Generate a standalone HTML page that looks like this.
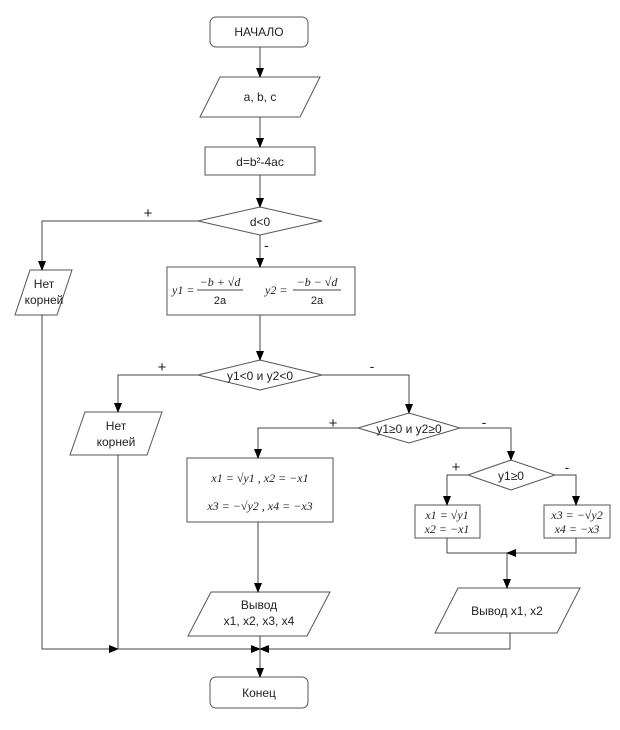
<!DOCTYPE html>
<html><head><meta charset="utf-8"><style>
body{margin:0;background:#fff}
svg text{font-family:"Liberation Sans",sans-serif;font-size:12px;fill:#222}
.m{font-family:"Liberation Serif",serif;font-style:italic;font-size:12px}
</style></head><body>
<svg width="620" height="725" viewBox="0 0 620 725" xmlns="http://www.w3.org/2000/svg">
<defs><marker id="a" markerWidth="10" markerHeight="10" refX="9" refY="5" orient="auto" markerUnits="userSpaceOnUse"><path d="M0,1 L10,5 L0,9 Z" fill="#000"/></marker></defs>
<g fill="none" stroke="#555" stroke-width="1">
<rect x="210" y="17" width="98" height="30" rx="6"/>
<polygon points="220,77 320,77 300,117 200,117"/>
<rect x="205" y="147" width="110" height="28"/>
<polygon points="198,221 260,207 322,221 260,235"/>
<polygon points="30,270 72,270 57,315 15,315"/>
<rect x="167" y="267" width="188" height="48"/>
<polygon points="198,375 260,360 322,375 260,390"/>
<polygon points="85,412 162,412 147,455 70,455"/>
<polygon points="358,428 409,413 460,428 409,443"/>
<rect x="187" y="458" width="146" height="64"/>
<polygon points="468,475 511,460 555,475 511,490"/>
<rect x="415" y="505" width="65" height="33"/>
<rect x="544" y="505" width="66" height="33"/>
<polygon points="458,588 580,588 557,633 435,633"/>
<polygon points="211,592 330,592 307,636 188,636"/>
<rect x="210" y="677" width="98" height="31" rx="6"/>
</g>
<g fill="none" stroke="#444" stroke-width="1">
<line x1="260" y1="47" x2="260" y2="77" marker-end="url(#a)"/>
<line x1="260" y1="117" x2="260" y2="147" marker-end="url(#a)"/>
<line x1="260" y1="175" x2="260" y2="207" marker-end="url(#a)"/>
<polyline points="198,221 42,221 42,270" marker-end="url(#a)"/>
<line x1="260" y1="235" x2="260" y2="267" marker-end="url(#a)"/>
<line x1="260" y1="315" x2="260" y2="360" marker-end="url(#a)"/>
<polyline points="198,375 118,375 118,412" marker-end="url(#a)"/>
<polyline points="322,375 409,375 409,413" marker-end="url(#a)"/>
<polyline points="358,428 258,428 258,458" marker-end="url(#a)"/>
<polyline points="460,428 511,428 511,460" marker-end="url(#a)"/>
<polyline points="468,475 447,475 447,505" marker-end="url(#a)"/>
<polyline points="555,475 576,475 576,505" marker-end="url(#a)"/>
<polyline points="447,538 447,553 507,553"/>
<polyline points="576,538 576,553 507,553" marker-end="url(#a)"/>
<line x1="507" y1="553" x2="507" y2="588" marker-end="url(#a)"/>
<line x1="258" y1="522" x2="258" y2="592" marker-end="url(#a)"/>
<polyline points="42,315 42,649 118,649" marker-end="url(#a)"/>
<polyline points="118,455 118,649 260,649" marker-end="url(#a)"/>
<polyline points="510,633 510,649 260,649" marker-end="url(#a)"/>
<line x1="260" y1="636" x2="260" y2="677" marker-end="url(#a)"/>
</g>
<text x="259" y="36" text-anchor="middle">НАЧАЛО</text>
<text x="260" y="101" text-anchor="middle">a, b, c</text>
<text x="260" y="166" text-anchor="middle">d=b²-4ac</text>
<text x="260" y="226" text-anchor="middle">d&lt;0</text>
<text x="148" y="218" text-anchor="middle" style="font-size:15px">+</text>
<text x="264" y="250" style="font-size:14px">-</text>
<text x="44" y="288" text-anchor="middle">Нет</text>
<text x="44" y="304" text-anchor="middle">корней</text>
<text x="172" y="294" class="m">y1 =</text>
<text x="220" y="286" class="m" text-anchor="middle">−b + √d</text>
<line x1="197" y1="290" x2="243" y2="290" stroke="#444"/>
<text x="220" y="304" text-anchor="middle" style="font-size:11px">2a</text>
<text x="265" y="294" class="m">y2 =</text>
<text x="317" y="286" class="m" text-anchor="middle">−b − √d</text>
<line x1="293" y1="290" x2="341" y2="290" stroke="#444"/>
<text x="317" y="304" text-anchor="middle" style="font-size:11px">2a</text>
<text x="260" y="380" text-anchor="middle">y1&lt;0 и y2&lt;0</text>
<text x="162" y="372" text-anchor="middle" style="font-size:15px">+</text>
<text x="372" y="371" text-anchor="middle" style="font-size:14px">-</text>
<text x="116" y="430" text-anchor="middle">Нет</text>
<text x="116" y="446" text-anchor="middle">корней</text>
<text x="409" y="433" text-anchor="middle">y1≥0 и y2≥0</text>
<text x="333" y="428" text-anchor="middle" style="font-size:15px">+</text>
<text x="484" y="427" text-anchor="middle" style="font-size:14px">-</text>
<text x="260" y="482" class="m" text-anchor="middle">x1 = √y1 , x2 = −x1</text>
<text x="260" y="510" class="m" text-anchor="middle">x3 = −√y2 , x4 = −x3</text>
<text x="511" y="480" text-anchor="middle">y1≥0</text>
<text x="456" y="472" text-anchor="middle" style="font-size:15px">+</text>
<text x="567" y="472" text-anchor="middle" style="font-size:14px">-</text>
<text x="447" y="519" class="m" text-anchor="middle">x1 = √y1</text>
<text x="447" y="533" class="m" text-anchor="middle">x2 = −x1</text>
<text x="577" y="519" class="m" text-anchor="middle">x3 = −√y2</text>
<text x="577" y="533" class="m" text-anchor="middle">x4 = −x3</text>
<text x="507" y="615" text-anchor="middle">Вывод x1, x2</text>
<text x="259" y="609" text-anchor="middle">Вывод</text>
<text x="259" y="625" text-anchor="middle">x1, x2, x3, x4</text>
<text x="259" y="697" text-anchor="middle">Конец</text>
</svg>
</body></html>
